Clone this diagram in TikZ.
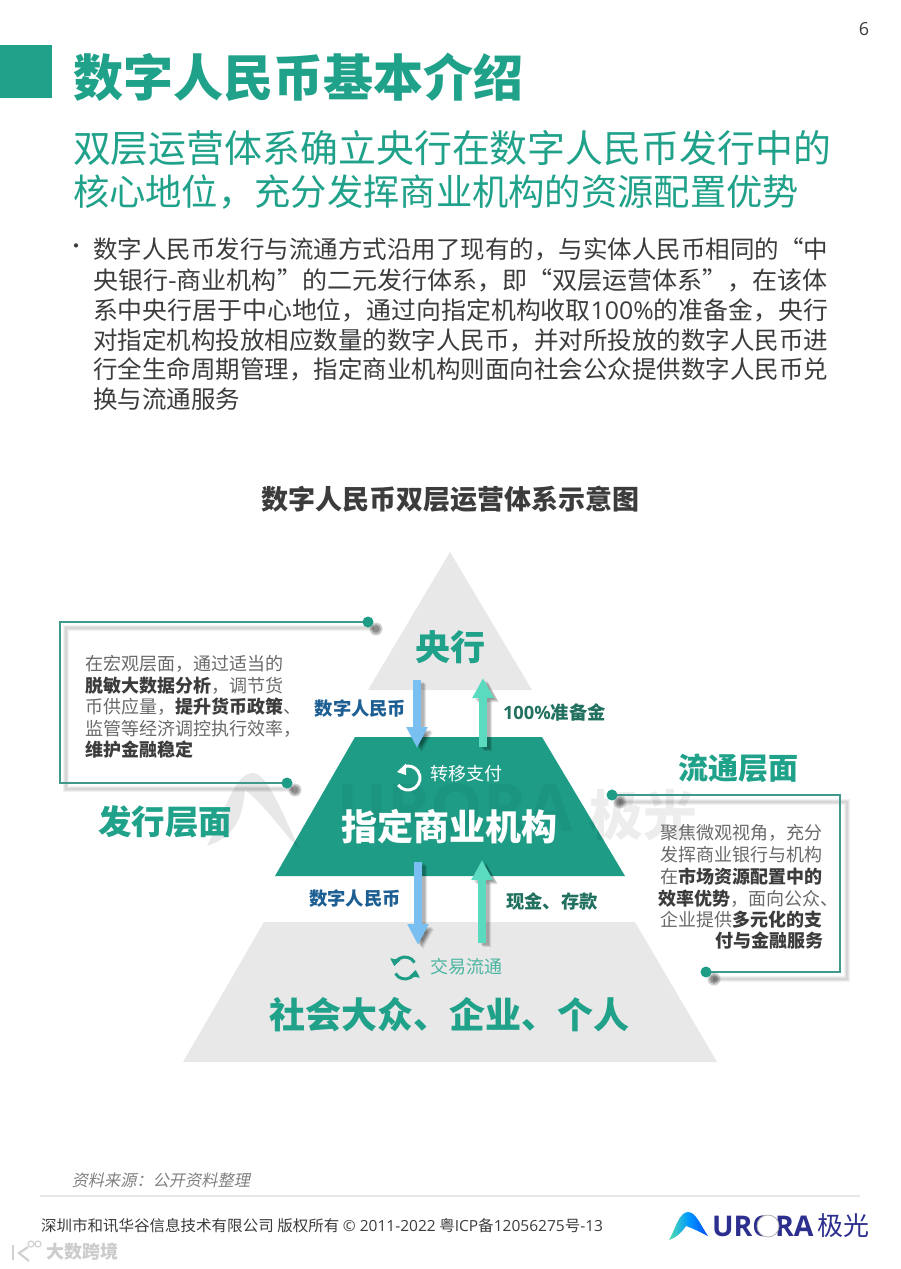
\documentclass[tikz,border=0pt]{standalone}
\usepackage{fontspec}
\usepackage{graphicx}
\usetikzlibrary{arrows.meta,calc}
\setmainfont{Noto Sans CJK SC}
\newfontfamily\osf{Open Sans}
\newcommand{\fsz}[1]{\fontsize{#1pt}{#1pt}\selectfont}
\newcommand{\bline}[1]{\resizebox{735pt}{\height}{#1}}
\definecolor{teal1}{HTML}{1FA18A}
\definecolor{teal2}{HTML}{1E9C86}
\definecolor{mint}{HTML}{5ADBBF}
\definecolor{skyb}{HTML}{79BFF2}
\definecolor{pgray}{HTML}{E8E8E8}
\definecolor{txt}{HTML}{3C3C3C}
\definecolor{boxtxt}{HTML}{6A6A6A}
\definecolor{frame}{HTML}{3F9A8C}
\definecolor{navyb}{HTML}{1D5E93}
\definecolor{dteal}{HTML}{22705F}
\definecolor{navy}{HTML}{2D2F8F}
\tikzset{
  x=1pt,y=-1pt,
  lab/.style={inner sep=0pt,outer sep=0pt},
  body/.style={lab,anchor=west,text=txt,font=\fsz{24.5}},
  boxl/.style={lab,anchor=west,text=boxtxt,font=\fsz{18}},
  framel/.style={draw=frame,line width=1.6pt},
  frames/.style={draw=black,line width=#1,opacity=.055},
  dotn/.style={circle,fill=teal2,inner sep=0pt,minimum size=11pt},
  dots/.style={circle,fill=black,inner sep=0pt,minimum size=#1,opacity=.18},
  flowd/.style={line width=8pt,-{Triangle[width=20pt,length=21pt]},skyb},
  flowu/.style={line width=8pt,-{Triangle[width=20pt,length=20pt]},mint},
  flows/.style={line width=8pt,-{Triangle[width=20pt,length=20pt]},black,opacity=.11},
}
\newcommand{\bb}[1]{\textcolor{txt}{\bfseries #1}}
\begin{document}
\begin{tikzpicture}
\useasboundingbox (0,0) rectangle (900,1269);
\fill[white] (0,0) rectangle (900,1269);
% header
\fill[teal1] (0,45) rectangle (52,98);
\node[lab,text=txt,font=\osf\fsz{18}] (pagenum) at (864,29) {6};
\node[lab,anchor=west,text=teal1,font=\fsz{50}\bfseries] (title) at (73,77) {数字人民币基本介绍};
\node[lab,anchor=west,text=teal1,font=\fsz{37.9}] (sub1) at (73,148) {双层运营体系确立央行在数字人民币发行中的};
\node[lab,anchor=west,text=teal1,font=\fsz{36.3}] (sub2) at (73,192) {核心地位，充分发挥商业机构的资源配置优势};
% body
\node[lab,text=txt,font=\fsz{20}] (bullet) at (76,249) {•};
\node[body] (b1) at (93,249) {\bline{数字人民币发行与流通方式沿用了现有的，与实体人民币相同的“中}};
\node[body] (b2) at (93,280) {\bline{央银行-商业机构”的二元发行体系，即“双层运营体系”，在该体}};
\node[body] (b3) at (93,310) {\bline{系中央行居于中心地位，通过向指定机构收取{\osf 100\%}的准备金，央行}};
\node[body] (b4) at (93,340) {\bline{对指定机构投放相应数量的数字人民币，并对所投放的数字人民币进}};
\node[body] (b5) at (93,369) {\bline{行全生命周期管理，指定商业机构则面向社会公众提供数字人民币兑}};
\node[body] (b6) at (93,399) {换与流通服务};
\node[lab,text=txt,font=\fsz{27}\bfseries] (charttitle) at (450,499) {数字人民币双层运营体系示意图};
% pyramid
\fill[pgray] (450,552) -- (532,690) -- (368,690) -- cycle;
\fill[pgray] (264,922) -- (635,922) -- (717,1062) -- (183,1062) -- cycle;
\fill[teal2] (355,737) -- (542,737) -- (625,876) -- (275,876) -- cycle;
% watermark
\fill[black,opacity=.09] (207,846) .. controls (225,810) and (235,773) .. (253,773) .. controls (268,773) and (285,820) .. (300,850) .. controls (285,835) and (265,805) .. (245,790) .. controls (243,810) and (240,835) .. (207,846) -- cycle;
\node[lab,text=black,opacity=.045,font=\osf\fsz{66}\bfseries] (wm1) at (455,808) {URORA};
\node[lab,text=black,opacity=.07,font=\fsz{54}\bfseries] (wm2) at (643,815) {极光};
% frames
\coordinate (lf1) at (60,622);
\coordinate (lf2) at (60,783);
\coordinate (rf1) at (840,795);
\coordinate (rf2) at (840,972);
\node[dotn,opacity=0] (ld1) at (368,622) {};
\node[dotn,opacity=0] (ld2) at (287,783) {};
\node[dotn,opacity=0] (rd1) at (612,795) {};
\node[dotn,opacity=0] (rd2) at (706,972) {};
\foreach \w in {2pt,4pt,6pt}{
  \draw[frames=\w] ([shift={(6,6)}]ld1.center) -- ([shift={(6,6)}]lf1) -- ([shift={(6,6)}]lf2) -- ([shift={(6,6)}]ld2.center);
  \draw[frames=\w] ([shift={(7,7)}]rd1.center) -- ([shift={(7,7)}]rf1) -- ([shift={(7,7)}]rf2) -- ([shift={(7,7)}]rd2.center);
}
\draw[framel] (ld1.center) -- (lf1) -- (lf2) -- (ld2.center);
\draw[framel] (rd1.center) -- (rf1) -- (rf2) -- (rd2.center);
\foreach \n in {ld1,ld2,rd1,rd2}{
  \node[dots=13pt] at ([shift={(8,7)}]\n.center) {};
  \node[dots=10pt] at ([shift={(8,7)}]\n.center) {};
  \node[dots=7pt] at ([shift={(8,7)}]\n.center) {};
  \node[dotn] at (\n.center) {};
}
% flows
\coordinate (a1) at (417,680); \coordinate (a2) at (417,748);
\coordinate (b7) at (483,747); \coordinate (b8) at (483,678);
\coordinate (c1) at (418,862); \coordinate (c2) at (418,945);
\coordinate (d1) at (482,943); \coordinate (d2) at (482,860);
\foreach \s/\e in {a1/a2,b7/b8,c1/c2,d1/d2}{
  \draw[flows] ([shift={(3,2)}]\s) -- ([shift={(3,2)}]\e);
  \draw[flows] ([shift={(4,3)}]\s) -- ([shift={(4,3)}]\e);
  \draw[flows] ([shift={(5,4)}]\s) -- ([shift={(5,4)}]\e);
}
\draw[flowd] (a1) -- (a2);
\draw[flowu] (b7) -- (b8);
\draw[flowd] (c1) -- (c2);
\draw[flowu] (d1) -- (d2);
% labels
\node[lab,text=teal1,font=\fsz{35}\bfseries] (yh) at (450,647) {央行};
\node[lab,text=navyb,font=\fsz{18.3}\bfseries] (f1) at (360.5,709) {数字人民币};
\node[lab,anchor=west,text=dteal,font=\fsz{18.3}\bfseries] (f2) at (503,712) {{\osf\bfseries 100\%}准备金};
\node[lab,anchor=west,text=white,font=\fsz{18}] (zy) at (430,774) {转移支付};
\node[lab,text=white,font=\fsz{36}\bfseries] (zd) at (449,827) {指定商业机构};
\node[lab,text=navyb,font=\fsz{18.3}\bfseries] (f3) at (355,899) {数字人民币};
\node[lab,text=dteal,font=\fsz{18.3}\bfseries] (f4) at (552,901) {现金、存款};
\node[lab,anchor=west,text=teal1!80!white,font=\fsz{18}] (jy) at (430,967) {交易流通};
\node[lab,text=teal1,font=\fsz{36}\bfseries] (sh) at (449,1015) {社会大众、企业、个人};
\node[lab,text=teal1,font=\fsz{33.5}\bfseries] (fx) at (165,822) {发行层面};
\node[lab,text=teal1,font=\fsz{30}\bfseries] (lt) at (738,768) {流通层面};
% icons
\coordinate (ic1) at (408,778);
\draw[white,line width=3pt] ([shift={(145:12)}]ic1) arc[start angle=145,end angle=-105,radius=12];
\fill[white] (397,772) -- (406,763.5) -- (406,775) -- cycle;
\coordinate (ic2) at (405,968);
\draw[teal2,line width=3pt,-{Triangle[width=10pt,length=7pt]}] ([shift={(-30:11)}]ic2) arc[start angle=-30,end angle=-170,radius=11];
\draw[teal2,line width=3pt,-{Triangle[width=10pt,length=7pt]}] ([shift={(150:11)}]ic2) arc[start angle=150,end angle=10,radius=11];
% left box text
\node[boxl] (l1) at (85,664) {在宏观层面，通过适当的};
\node[boxl] (l2) at (85,686) {\bb{脱敏大数据分析}，调节货};
\node[boxl] (l3) at (85,707) {币供应量，\bb{提升货币政策}、};
\node[boxl] (l4) at (85,729) {监管等经济调控执行效率，};
\node[boxl] (l5) at (85,750) {\bb{维护金融稳定}};
% right box text
\node[boxl] (r1) at (660,833) {聚焦微观视角，充分};
\node[boxl] (r2) at (660,855) {发挥商业银行与机构};
\node[boxl] (r3) at (660,877) {在\bb{市场资源配置中的}};
\node[boxl] (r4) at (658,899) {\bb{效率优势}，面向公众、};
\node[boxl] (r5) at (660,920) {企业提供\bb{多元化的支}};
\node[boxl,anchor=east] (r6) at (823,941) {\bb{付与金融服务}};
% footer
\node[lab,anchor=west,xslant=.2,text=black!50,font=\fsz{16.2}] (src) at (73,1180) {资料来源：公开资料整理};
\coordinate (fl1) at (40,1196); \coordinate (fl2) at (860,1196);
\draw[pgray,line width=1.5pt] (fl1) -- (fl2);
\node[lab,anchor=west,text=txt,font=\fsz{15.3}] (foot) at (41,1226) {\resizebox{562pt}{\height}{深圳市和讯华谷信息技术有限公司 版权所有 {\osf © 2011-2022} 粤{\osf ICP}备{\osf 12056275}号{\osf -13}}};
\shade[left color=mint!90!green,right color=blue!70!cyan,middle color=cyan!60!blue] (669,1240) .. controls (675,1230) and (679,1212) .. (688,1212) .. controls (696,1212) and (701,1226) .. (708,1236) .. controls (700,1232) and (692,1228) .. (686,1226) .. controls (682,1232) and (676,1238) .. (669,1240) -- cycle;
\node[lab,anchor=west,text=navy,font=\osf\fsz{28.5}\bfseries] (ulogo) at (712,1226) {URORA};
\node[lab,anchor=west,text=navy,font=\fsz{26}] (jlogo) at (817,1226) {极光};
\fill[white,draw=black!30,line width=.8pt] (768,1226) circle[radius=11];
\draw[black!18,line width=2.2pt] (13,1245) -- (13,1260);
\draw[black!18,line width=2.2pt] (28,1247) -- (19,1253) -- (29,1261);
\draw[black!18,line width=1.2pt] (31,1244) circle[radius=3] (38,1244) circle[radius=3];
\node[lab,anchor=west,text=black!20,font=\fsz{18}\bfseries] (wm3) at (46,1252) {大数跨境};
\end{tikzpicture}
\end{document}
